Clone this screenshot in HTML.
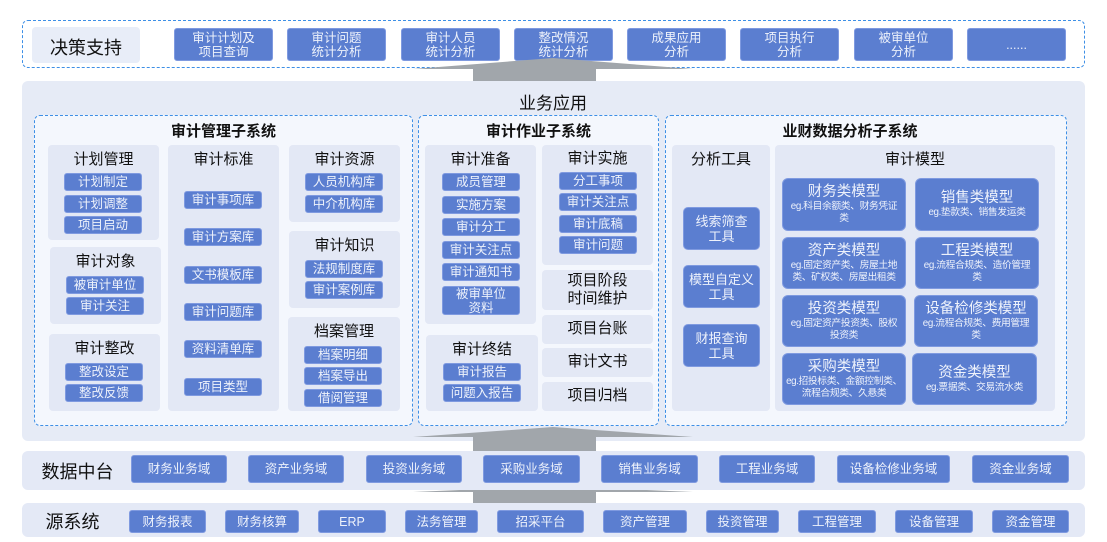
<!DOCTYPE html>
<html><head><meta charset="utf-8">
<style>
*{margin:0;padding:0;box-sizing:border-box}
body{width:1107px;height:542px;background:#fff;position:relative;overflow:hidden;font-family:"Liberation Sans","Noto Sans CJK SC",sans-serif;color:#111}
div{position:absolute}
.b{background:#5b7ed0;color:#eef2fb;border-radius:3px;display:flex;align-items:center;justify-content:center;text-align:center;font-size:12.5px;line-height:14px;border:1px solid #7f9ae0}
.p{background:#e3e8f5;border-radius:4px}
.t{font-size:15px;text-align:center;line-height:18px}
.d{border:1.5px dashed #3d8fe6;border-radius:6px;background:#f4f7fd}
.m{background:#5b7ed0;color:#eef2fb;border-radius:6px;text-align:center;border:1px solid #7f9ae0}
.m .h{position:static;font-size:14.5px;line-height:17px}
.m .s{position:static;font-size:9.8px;line-height:12px;letter-spacing:-0.4px;white-space:nowrap}
.L{font-size:18px;text-align:center}
</style></head><body>
<!-- top -->
<div class="d" style="left:22px;top:20px;width:1063px;height:48px;background:#fff"></div>
<div class="p" style="left:32px;top:27px;width:108px;height:36px;background:#e8edf8"></div>
<div class="L" style="left:32px;top:34px;width:108px">决策支持</div>
<div class="b" style="left:174px;top:28px;width:99px;height:33px">审计计划及<br>项目查询</div>
<div class="b" style="left:287px;top:28px;width:99px;height:33px">审计问题<br>统计分析</div>
<div class="b" style="left:401px;top:28px;width:99px;height:33px">审计人员<br>统计分析</div>
<div class="b" style="left:514px;top:28px;width:99px;height:33px">整改情况<br>统计分析</div>
<div class="b" style="left:627px;top:28px;width:99px;height:33px">成果应用<br>分析</div>
<div class="b" style="left:740px;top:28px;width:99px;height:33px">项目执行<br>分析</div>
<div class="b" style="left:854px;top:28px;width:99px;height:33px">被审单位<br>分析</div>
<div class="b" style="left:967px;top:28px;width:99px;height:33px">......</div>

<!-- business app -->
<div style="left:22px;top:81px;width:1063px;height:360px;background:#e6ebf6;border-radius:6px"></div>
<div class="L" style="left:453px;top:89px;width:200px;font-size:17px">业务应用</div>

<svg style="position:absolute;left:0;top:0" width="1107" height="542">
<g fill="#a1a6ab">
<polygon points="413,69 553,58 693,69 596,69 596,81 473,81 473,69"/>
<polygon points="413,437 553,427 693,437 596,437 596,451 473,451 473,437"/>
<polygon points="413,492 553,486 693,492 596,492 596,503 473,503 473,492"/>
</g></svg>

<!-- left subsystem -->
<div class="d" style="left:34px;top:115px;width:379px;height:311px"></div>
<div class="t" style="left:34px;top:123px;width:379px;font-weight:bold">审计管理子系统</div>
<div class="p" style="left:48px;top:145px;width:111px;height:95px"></div>
<div class="t" style="left:48px;top:151px;width:111px">计划管理</div>
<div class="b" style="left:64px;top:173px;width:78px;height:18px">计划制定</div>
<div class="b" style="left:64px;top:195px;width:78px;height:18px">计划调整</div>
<div class="b" style="left:64px;top:216px;width:78px;height:18px">项目启动</div>
<div class="p" style="left:50px;top:247px;width:111px;height:77px"></div>
<div class="t" style="left:50px;top:253px;width:111px">审计对象</div>
<div class="b" style="left:66px;top:276px;width:78px;height:18px">被审计单位</div>
<div class="b" style="left:66px;top:297px;width:78px;height:18px">审计关注</div>
<div class="p" style="left:49px;top:334px;width:111px;height:77px"></div>
<div class="t" style="left:49px;top:340px;width:111px">审计整改</div>
<div class="b" style="left:65px;top:363px;width:78px;height:18px">整改设定</div>
<div class="b" style="left:65px;top:384px;width:78px;height:18px">整改反馈</div>
<div class="p" style="left:168px;top:145px;width:111px;height:266px"></div>
<div class="t" style="left:168px;top:151px;width:111px">审计标准</div>
<div class="b" style="left:184px;top:191px;width:78px;height:18px">审计事项库</div>
<div class="b" style="left:184px;top:228px;width:78px;height:18px">审计方案库</div>
<div class="b" style="left:184px;top:266px;width:78px;height:18px">文书模板库</div>
<div class="b" style="left:184px;top:303px;width:78px;height:18px">审计问题库</div>
<div class="b" style="left:184px;top:340px;width:78px;height:18px">资料清单库</div>
<div class="b" style="left:184px;top:378px;width:78px;height:18px">项目类型</div>
<div class="p" style="left:289px;top:145px;width:111px;height:77px"></div>
<div class="t" style="left:289px;top:151px;width:111px">审计资源</div>
<div class="b" style="left:305px;top:173px;width:78px;height:18px">人员机构库</div>
<div class="b" style="left:305px;top:195px;width:78px;height:18px">中介机构库</div>
<div class="p" style="left:289px;top:231px;width:111px;height:77px"></div>
<div class="t" style="left:289px;top:237px;width:111px">审计知识</div>
<div class="b" style="left:305px;top:260px;width:78px;height:18px">法规制度库</div>
<div class="b" style="left:305px;top:281px;width:78px;height:18px">审计案例库</div>
<div class="p" style="left:288px;top:317px;width:112px;height:94px"></div>
<div class="t" style="left:288px;top:323px;width:112px">档案管理</div>
<div class="b" style="left:304px;top:346px;width:78px;height:18px">档案明细</div>
<div class="b" style="left:304px;top:367px;width:78px;height:18px">档案导出</div>
<div class="b" style="left:304px;top:389px;width:78px;height:18px">借阅管理</div>

<!-- middle -->
<div class="d" style="left:418px;top:115px;width:241px;height:311px"></div>
<div class="t" style="left:418px;top:123px;width:241px;font-weight:bold">审计作业子系统</div>
<div class="p" style="left:425px;top:145px;width:111px;height:179px"></div>
<div class="t" style="left:425px;top:151px;width:111px">审计准备</div>
<div class="b" style="left:442px;top:173px;width:78px;height:18px">成员管理</div>
<div class="b" style="left:442px;top:196px;width:78px;height:18px">实施方案</div>
<div class="b" style="left:442px;top:218px;width:78px;height:18px">审计分工</div>
<div class="b" style="left:442px;top:241px;width:78px;height:18px">审计关注点</div>
<div class="b" style="left:442px;top:263px;width:78px;height:18px">审计通知书</div>
<div class="b" style="left:442px;top:286px;width:78px;height:29px">被审单位<br>资料</div>
<div class="p" style="left:426px;top:335px;width:112px;height:76px"></div>
<div class="t" style="left:426px;top:341px;width:112px">审计终结</div>
<div class="b" style="left:443px;top:363px;width:78px;height:18px">审计报告</div>
<div class="b" style="left:443px;top:384px;width:78px;height:18px">问题入报告</div>
<div class="p" style="left:542px;top:145px;width:111px;height:120px"></div>
<div class="t" style="left:542px;top:150px;width:111px">审计实施</div>
<div class="b" style="left:559px;top:172px;width:78px;height:18px">分工事项</div>
<div class="b" style="left:559px;top:193px;width:78px;height:18px">审计关注点</div>
<div class="b" style="left:559px;top:215px;width:78px;height:18px">审计底稿</div>
<div class="b" style="left:559px;top:236px;width:78px;height:18px">审计问题</div>
<div class="p" style="left:542px;top:270px;width:111px;height:40px"></div>
<div class="t" style="left:542px;top:272px;width:111px">项目阶段<br>时间维护</div>
<div class="p" style="left:542px;top:315px;width:111px;height:29px"></div>
<div class="t" style="left:542px;top:320px;width:111px">项目台账</div>
<div class="p" style="left:542px;top:348px;width:111px;height:29px"></div>
<div class="t" style="left:542px;top:353px;width:111px">审计文书</div>
<div class="p" style="left:542px;top:382px;width:111px;height:29px"></div>
<div class="t" style="left:542px;top:387px;width:111px">项目归档</div>

<!-- right -->
<div class="d" style="left:665px;top:115px;width:402px;height:311px"></div>
<div class="t" style="left:665px;top:123px;width:370px;font-weight:bold">业财数据分析子系统</div>
<div class="p" style="left:672px;top:145px;width:98px;height:266px"></div>
<div class="t" style="left:672px;top:151px;width:98px">分析工具</div>
<div class="b" style="left:683px;top:207px;width:77px;height:43px;font-size:13px;line-height:15px;border-radius:5px">线索筛查<br>工具</div>
<div class="b" style="left:683px;top:265px;width:77px;height:43px;font-size:13px;line-height:15px;border-radius:5px">模型自定义<br>工具</div>
<div class="b" style="left:683px;top:324px;width:77px;height:43px;font-size:13px;line-height:15px;border-radius:5px">财报查询<br>工具</div>
<div class="p" style="left:775px;top:145px;width:280px;height:266px"></div>
<div class="t" style="left:775px;top:151px;width:280px">审计模型</div>
<div class="m" style="left:782px;top:178px;width:124px;height:53px;padding-top:5px"><div class="h">财务类模型</div><div class="s">eg.科目余额类、财务凭证<br>类</div></div>
<div class="m" style="left:915px;top:178px;width:124px;height:53px;padding-top:11px"><div class="h">销售类模型</div><div class="s">eg.垫款类、销售发运类</div></div>
<div class="m" style="left:782px;top:237px;width:124px;height:52px;padding-top:5px"><div class="h">资产类模型</div><div class="s">eg.固定资产类、房屋土地<br>类、矿权类、房屋出租类</div></div>
<div class="m" style="left:915px;top:237px;width:124px;height:52px;padding-top:5px"><div class="h">工程类模型</div><div class="s">eg.流程合规类、造价管理<br>类</div></div>
<div class="m" style="left:782px;top:295px;width:124px;height:52px;padding-top:5px"><div class="h">投资类模型</div><div class="s">eg.固定资产投资类、股权<br>投资类</div></div>
<div class="m" style="left:914px;top:295px;width:124px;height:52px;padding-top:5px"><div class="h">设备检修类模型</div><div class="s">eg.流程合规类、费用管理<br>类</div></div>
<div class="m" style="left:782px;top:353px;width:124px;height:52px;padding-top:5px"><div class="h">采购类模型</div><div class="s">eg.招投标类、金额控制类、<br>流程合规类、久悬类</div></div>
<div class="m" style="left:912px;top:353px;width:125px;height:52px;padding-top:11px"><div class="h">资金类模型</div><div class="s">eg.票据类、交易流水类</div></div>

<!-- data middle -->
<div style="left:22px;top:451px;width:1063px;height:39px;background:#e4e9f6;border-radius:6px"></div>
<div class="L" style="left:30px;top:458px;width:95px">数据中台</div>
<div class="b" style="left:131px;top:455px;width:96px;height:28px">财务业务域</div>
<div class="b" style="left:248px;top:455px;width:96px;height:28px">资产业务域</div>
<div class="b" style="left:366px;top:455px;width:96px;height:28px">投资业务域</div>
<div class="b" style="left:483px;top:455px;width:97px;height:28px">采购业务域</div>
<div class="b" style="left:601px;top:455px;width:97px;height:28px">销售业务域</div>
<div class="b" style="left:719px;top:455px;width:96px;height:28px">工程业务域</div>
<div class="b" style="left:837px;top:455px;width:113px;height:28px">设备检修业务域</div>
<div class="b" style="left:972px;top:455px;width:97px;height:28px">资金业务域</div>

<!-- source -->
<div style="left:22px;top:503px;width:1063px;height:34px;background:#e4e9f6;border-radius:6px"></div>
<div class="L" style="left:30px;top:508px;width:85px">源系统</div>
<div class="b" style="left:129px;top:510px;width:77px;height:23px">财务报表</div>
<div class="b" style="left:225px;top:510px;width:74px;height:23px">财务核算</div>
<div class="b" style="left:318px;top:510px;width:68px;height:23px">ERP</div>
<div class="b" style="left:405px;top:510px;width:73px;height:23px">法务管理</div>
<div class="b" style="left:497px;top:510px;width:87px;height:23px">招采平台</div>
<div class="b" style="left:603px;top:510px;width:84px;height:23px">资产管理</div>
<div class="b" style="left:706px;top:510px;width:73px;height:23px">投资管理</div>
<div class="b" style="left:798px;top:510px;width:78px;height:23px">工程管理</div>
<div class="b" style="left:895px;top:510px;width:78px;height:23px">设备管理</div>
<div class="b" style="left:992px;top:510px;width:77px;height:23px">资金管理</div>
</body></html>
